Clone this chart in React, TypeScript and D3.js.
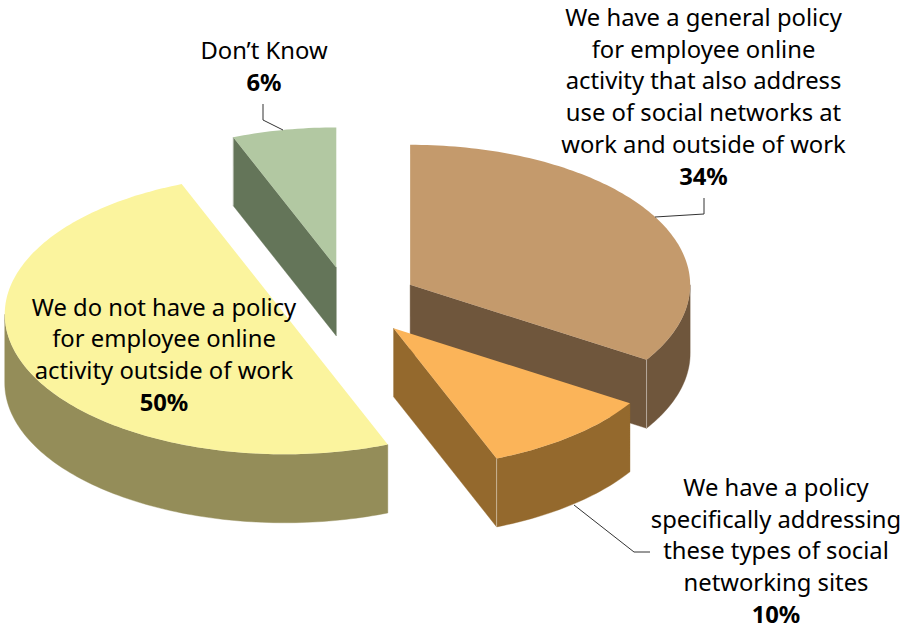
import React from "react";
import * as d3 from "d3";

const categories = [
  "We have a general policy for employee online activity that also address use of social networks at work and outside of work",
  "We have a policy specifically addressing these types of social networking sites",
  "We do not have a policy for employee online activity outside of work",
  "Don’t Know",
];
const values = [34, 10, 50, 6];
const percentLabels = ["34%", "10%", "50%", "6%"];
const topColors = ["#C49A6C", "#FBB459", "#FBF49E", "#B2C8A2"];
const sideColors = ["#6F563C", "#94692D", "#948D59", "#647559"];
const labelLines = [
  ["We have a general policy", "for employee online", "activity that also address", "use of social networks at", "work and outside of work"],
  ["We have a policy", "specifically addressing", "these types of social", "networking sites"],
  ["We do not have a policy", "for employee online", "activity outside of work"],
  ["Don’t Know"],
];
const labelCenters = [703.5, 776, 164, 264];
const labelBaselines = [26, 496, 315.5, 59];
const lineStep = 31.7;
const leaders = [
  [[704, 198], [704, 214], [655, 217]],
  [[574, 505], [634, 552], [650, 552]],
  [],
  [[263, 104], [263, 120], [283, 130]],
];

const W = 909;
const H = 626;
const CX = 349.3;
const CY = 301.5;
const RX = 280;
const RY = 140;
const DEPTH = 68.5;
const EXPLODE = 0.248;
const FONT = "'Noto Sans', 'Open Sans', sans-serif";

const sx = d3.scaleLinear().domain([-1, 1]).range([-RX, RX]);
const sy = d3.scaleLinear().domain([-1, 1]).range([-RY, RY]);

type P = [number, number];
const lineGen = d3.line<P>();
const polyline = (pts: number[][]) => lineGen(pts as P[]) as string;

function ringPoints(cx: number, cy: number, a0: number, a1: number, dz: number): P[] {
  const n = Math.max(2, Math.ceil(Math.abs(a1 - a0) / 0.02));
  return d3.range(n + 1).map((i) => {
    const a = a0 + ((a1 - a0) * i) / n;
    return [cx + sx(Math.sin(a)), cy + sy(-Math.cos(a)) + dz] as P;
  });
}

export default function App() {
  const arcs = d3.pie<number>().sort(null).startAngle(0).endAngle(2 * Math.PI)(values);
  // draw back slices first, the orange one overlaps the tan wall
  const order = [3, 0, 2, 1];

  return (
    <svg
      width={W}
      height={H}
      viewBox={`0 0 ${W} ${H}`}
      style={{ position: "absolute", left: 0, top: 0, display: "block", background: "#fff" }}
    >
      {order.map((i) => {
        const { startAngle: a0, endAngle: a1 } = arcs[i];
        const mid = (a0 + a1) / 2;
        const cx = CX + EXPLODE * sx(Math.sin(mid));
        const cy = CY + EXPLODE * sy(-Math.cos(mid));
        const apex: P = [cx, cy];
        const top = ringPoints(cx, cy, a0, a1, 0);
        const faces: string[] = [];
        const edges: number[][][] = [];
        // outer wall: the part of the rim that faces the viewer
        const w0 = Math.max(a0, Math.PI / 2);
        const w1 = Math.min(a1, (3 * Math.PI) / 2);
        if (w1 > w0) {
          const rim = ringPoints(cx, cy, w0, w1, 0);
          const low = ringPoints(cx, cy, w0, w1, DEPTH).reverse();
          faces.push(polyline([...rim, ...low]) + "Z");
        }
        // cut faces
        const cut = (a: number) => {
          const p = ringPoints(cx, cy, a, a, 0)[0];
          faces.push(polyline([apex, p, [p[0], p[1] + DEPTH], [apex[0], apex[1] + DEPTH]]) + "Z");
          edges.push([p, [p[0], p[1] + DEPTH]]);
        };
        if (Math.sin(a0) < -1e-6) cut(a0);
        if (Math.sin(a1) > 1e-6) cut(a1);
        return (
          <g key={i}>
            {faces.map((d, k) => (
              <path key={k} d={d} fill={sideColors[i]} stroke={sideColors[i]} strokeWidth={0.4} />
            ))}
            {edges.map((e, k) => (
              <path key={k} d={polyline(e)} stroke="#fff" strokeOpacity={0.45} strokeWidth={1} fill="none" />
            ))}
            <path d={polyline([apex, ...top]) + "Z"} fill={topColors[i]} />
          </g>
        );
      })}
      {leaders.map((pts, i) =>
        pts.length ? (
          <path key={i} d={polyline(pts)} fill="none" stroke="#333" strokeWidth={1} />
        ) : null
      )}
      {labelLines.map((lines, i) => (
        <text
          key={i}
          textAnchor="middle"
          fontFamily={FONT}
          fontSize={23.8}
          fill="#000"
          aria-label={categories[i]}
        >
          {lines.map((t, k) => (
            <tspan key={k} x={labelCenters[i]} y={labelBaselines[i] + k * lineStep}>
              {t}
            </tspan>
          ))}
          <tspan
            x={labelCenters[i]}
            y={labelBaselines[i] + lines.length * lineStep}
            fontWeight="bold"
          >
            {percentLabels[i]}
          </tspan>
        </text>
      ))}
    </svg>
  );
}
